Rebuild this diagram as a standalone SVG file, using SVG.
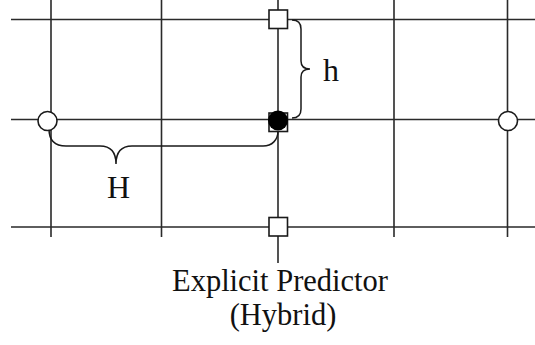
<svg xmlns="http://www.w3.org/2000/svg" width="535" height="345" viewBox="0 0 535 345">
<style>
.grid{stroke:#2a2a2a;stroke-width:1.6;fill:none}
.brace{stroke:#1a1a1a;stroke-width:1.5;fill:none}
.sq{fill:#fff;stroke:#1a1a1a;stroke-width:1.6}
.oc{fill:#fff;stroke:#1a1a1a;stroke-width:1.6}
.lbl{font-family:"Liberation Serif","Times New Roman",serif;fill:#111}
</style>
<rect width="535" height="345" fill="#fff"/>
<g id="connectors">
<path class="grid" d="M11,19.5H535M11,119.5H535M11,227H535"/>
<path class="grid" d="M51,0V237M161.5,0V237M394,0V237M507.5,0V237M278,0V263"/>
<path class="brace" d="M292,20 C298,20 301,23 301,29 L301,61 C301,66 304,69 310,69 C304,69 301,72 301,77 L301,109 C301,115 298,118 292,118"/>
<path class="brace" d="M49,129 C49,140 55,146 66,146 L100,146 C110,146 116,152 116,164 C116,152 122,146 132,146 L263,146 C272,146 278,140 278,131"/>
</g>
<g id="node-top"><rect class="sq" x="269" y="10" width="18.5" height="18.5"/></g>
<g id="node-bottom"><rect class="sq" x="269" y="217.5" width="18.5" height="18.5"/></g>
<g id="node-left"><circle class="oc" cx="47.5" cy="121" r="9.5"/></g>
<g id="node-right"><circle class="oc" cx="508" cy="121" r="9.5"/></g>
<g id="node-center">
<rect class="sq" x="269" y="113" width="18.5" height="18.5"/>
<circle cx="278" cy="120.5" r="10" fill="#000"/>
</g>
<g id="labels">
<text class="lbl" x="331" y="81" font-size="32" text-anchor="middle">h</text>
<text class="lbl" x="118.5" y="198" font-size="32" text-anchor="middle">H</text>
<text class="lbl" x="280" y="291" font-size="30.5" text-anchor="middle">Explicit Predictor</text>
<text class="lbl" x="283" y="324.5" font-size="30.5" text-anchor="middle">(Hybrid)</text>
</g>
</svg>
